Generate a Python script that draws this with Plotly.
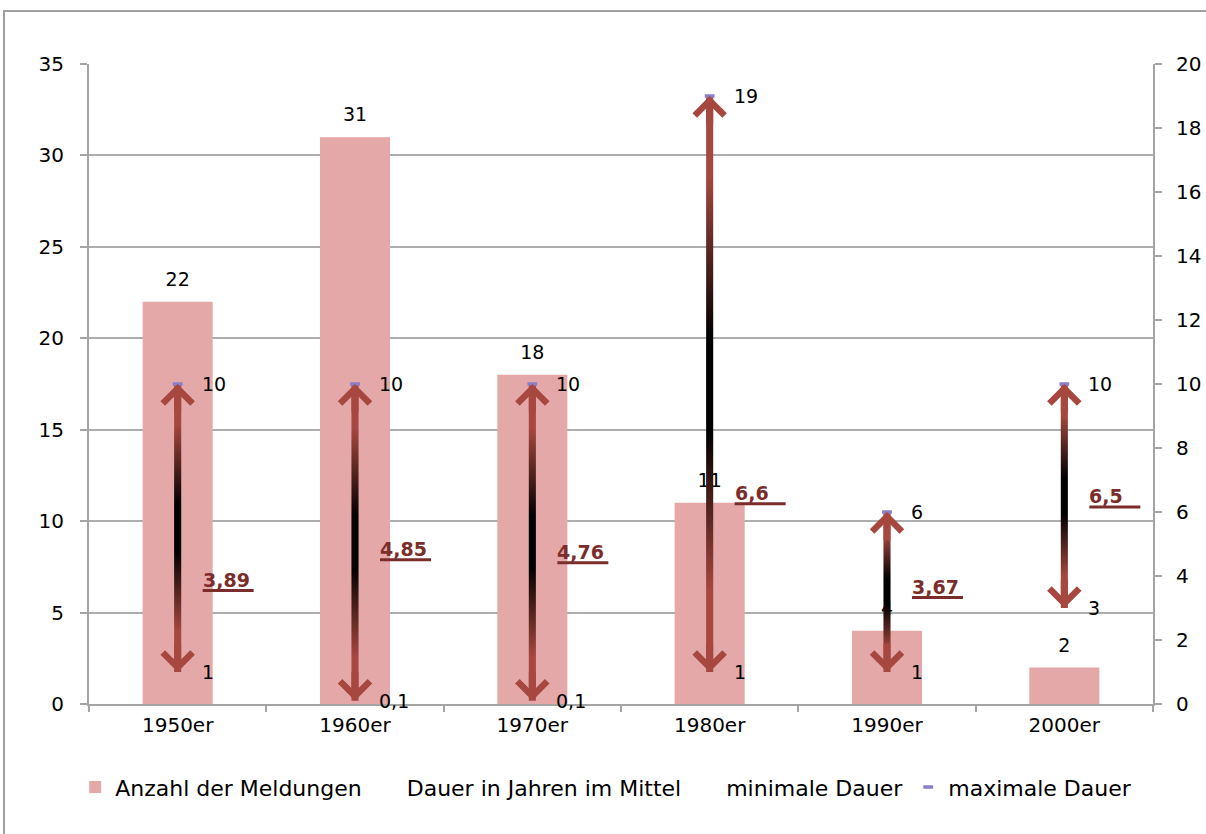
import plotly.graph_objects as go

# Meldungen je Jahrzehnt und Dauer (in Jahren)
decades = ["1950er", "1960er", "1970er", "1980er", "1990er", "2000er"]
meldungen = [22, 31, 18, 11, 4, 2]
dauer_mittel = [3.89, 4.85, 4.76, 6.6, 3.67, 6.5]
dauer_min = [1, 0.1, 0.1, 1, 1, 3]
dauer_max = [10, 10, 10, 19, 6, 10]

left_ticks = [0, 5, 10, 15, 20, 25, 30, 35]
right_ticks = [0, 2, 4, 6, 8, 10, 12, 14, 16, 18, 20]

FONT = "DejaVu Sans"
BAR_COLOR = "#E3A8A7"
ARROW_END = "#A6483F"
MEAN_COLOR = "#7B2D2B"
MAX_COLOR = "#8B7DC8"
AXIS_GRAY = "#A4A4A4"
GRID_GRAY = "#ADADAD"
CLEAR = "rgba(0,0,0,0)"

def de(v):
    return f"{v:g}".replace(".", ",")

pos = list(range(len(decades)))
half_shaft = 0.02  # half width of arrow shaft in x units

fig = go.Figure()

fig.add_trace(go.Bar(
    x=pos, y=meldungen, name="Anzahl der Meldungen",
    marker=dict(color=BAR_COLOR, line=dict(width=0)),
    yaxis="y", hoverinfo="skip",
))

# count labels above the bars
fig.add_trace(go.Scatter(
    x=pos, y=meldungen, mode="markers+text",
    text=[str(v) for v in meldungen], textposition="top center",
    textfont=dict(family=FONT, size=19, color="black"),
    marker=dict(size=16, color=CLEAR, opacity=0), showlegend=False,
    hoverinfo="skip", yaxis="y",
))

# arrow shafts (min -> max) with red-black-red gradient
for i, lo, hi in zip(pos, dauer_min, dauer_max):
    fig.add_trace(go.Scatter(
        x=[i - half_shaft, i + half_shaft, i + half_shaft, i - half_shaft],
        y=[lo, lo, hi, hi],
        mode="lines", fill="toself",
        line=dict(width=0, color=CLEAR),
        fillgradient=dict(
            type="vertical",
            colorscale=[[0, ARROW_END], [0.14, ARROW_END], [0.42, "#000000"],
                        [0.58, "#000000"], [0.86, ARROW_END], [1, ARROW_END]],
        ),
        yaxis="y2", showlegend=False, hoverinfo="skip",
    ))

fig.add_trace(go.Scatter(
    x=pos, y=dauer_mittel, mode="markers", name="Dauer in Jahren im Mittel",
    marker=dict(size=6, color=CLEAR, opacity=0), yaxis="y2", hoverinfo="skip",
))
fig.add_trace(go.Scatter(
    x=pos, y=dauer_min, mode="markers", name="minimale Dauer",
    marker=dict(size=6, color=CLEAR, opacity=0), yaxis="y2", hoverinfo="skip",
))
fig.add_trace(go.Scatter(
    x=pos, y=dauer_max, mode="markers", name="maximale Dauer",
    marker=dict(symbol="line-ew", size=7, color=MAX_COLOR,
                line=dict(width=3.5, color=MAX_COLOR)),
    yaxis="y2", hoverinfo="skip",
))

annotations = []
shapes = []

# arrowheads at both ends
for i, lo, hi in zip(pos, dauer_min, dauer_max):
    for yv, ay in ((hi, 30), (lo, -30)):
        annotations.append(dict(
            x=i, y=yv, xref="x", yref="y2", text="", showarrow=True,
            ax=0, ay=ay, arrowhead=4, arrowwidth=7, arrowsize=0.82,
            arrowcolor=ARROW_END, standoff=0,
        ))

# value labels for min / max
for i, lo, hi in zip(pos, dauer_min, dauer_max):
    for yv in (lo, hi):
        annotations.append(dict(
            x=i, y=yv, xref="x", yref="y2", text=de(yv), showarrow=False,
            xanchor="left", yanchor="middle", xshift=22,
            font=dict(family=FONT, size=19, color="black"),
        ))

# mean labels, bold and underlined
for i, m in zip(pos, dauer_mittel):
    annotations.append(dict(
        x=i, y=m, xref="x", yref="y2", text=f"<b>{de(m)}</b>", showarrow=False,
        xanchor="left", yanchor="middle", xshift=23,
        font=dict(family=FONT, size=19, color=MEAN_COLOR),
    ))
    shapes.append(dict(
        type="line", xref="x", yref="y2",
        xsizemode="pixel", xanchor=i, x0=25, x1=76,
        ysizemode="pixel", yanchor=m, y0=-11, y1=-11,
        line=dict(color=MEAN_COLOR, width=3),
    ))

# outer chart frame
shapes.append(dict(
    type="rect", xref="paper", yref="paper",
    x0=(4 - 89) / 1064, x1=1.2, y0=-0.5, y1=1 + (64 - 11) / 640,
    line=dict(color="#A0A0A0", width=2), fillcolor=CLEAR,
))

fig.update_layout(
    width=1206, height=834,
    margin=dict(l=89, r=53, t=64, b=130, autoexpand=False),
    paper_bgcolor="white", plot_bgcolor="white",
    font=dict(family=FONT, size=20, color="black"),
    bargap=0.605,
    showlegend=True,
    legend=dict(
        orientation="h", x=-0.013, y=-0.13, xanchor="left", yanchor="middle",
        font=dict(family=FONT, size=22, color="black"),
        bgcolor=CLEAR, itemclick=False,
    ),
    xaxis=dict(
        range=[-0.5, len(decades) - 0.5], automargin=False,
        tickvals=pos, ticktext=decades, ticks="",
        showline=True, linecolor=AXIS_GRAY, linewidth=2,
        showgrid=False, zeroline=False, ticklabelstandoff=2,
        minor=dict(tickvals=[p - 0.5 for p in pos] + [len(decades) - 0.5],
                   ticks="outside", ticklen=6, tickcolor=AXIS_GRAY, tickwidth=2,
                   showgrid=False),
    ),
    yaxis=dict(
        range=[0, 35], tickvals=left_ticks, ticks="outside", ticklen=7,
        tickcolor=AXIS_GRAY, tickwidth=2, automargin=False,
        showline=True, linecolor=AXIS_GRAY, linewidth=2,
        showgrid=True, gridcolor=GRID_GRAY, gridwidth=2, zeroline=False,
        ticklabelstandoff=12,
    ),
    yaxis2=dict(
        range=[0, 20], tickvals=right_ticks, overlaying="y", side="right",
        ticks="outside", ticklen=7, tickcolor=AXIS_GRAY, tickwidth=2,
        automargin=False,
        showline=True, linecolor=AXIS_GRAY, linewidth=2,
        showgrid=False, zeroline=False, ticklabelstandoff=10,
    ),
    annotations=annotations,
    shapes=shapes,
)

fig.write_html("out.html")
